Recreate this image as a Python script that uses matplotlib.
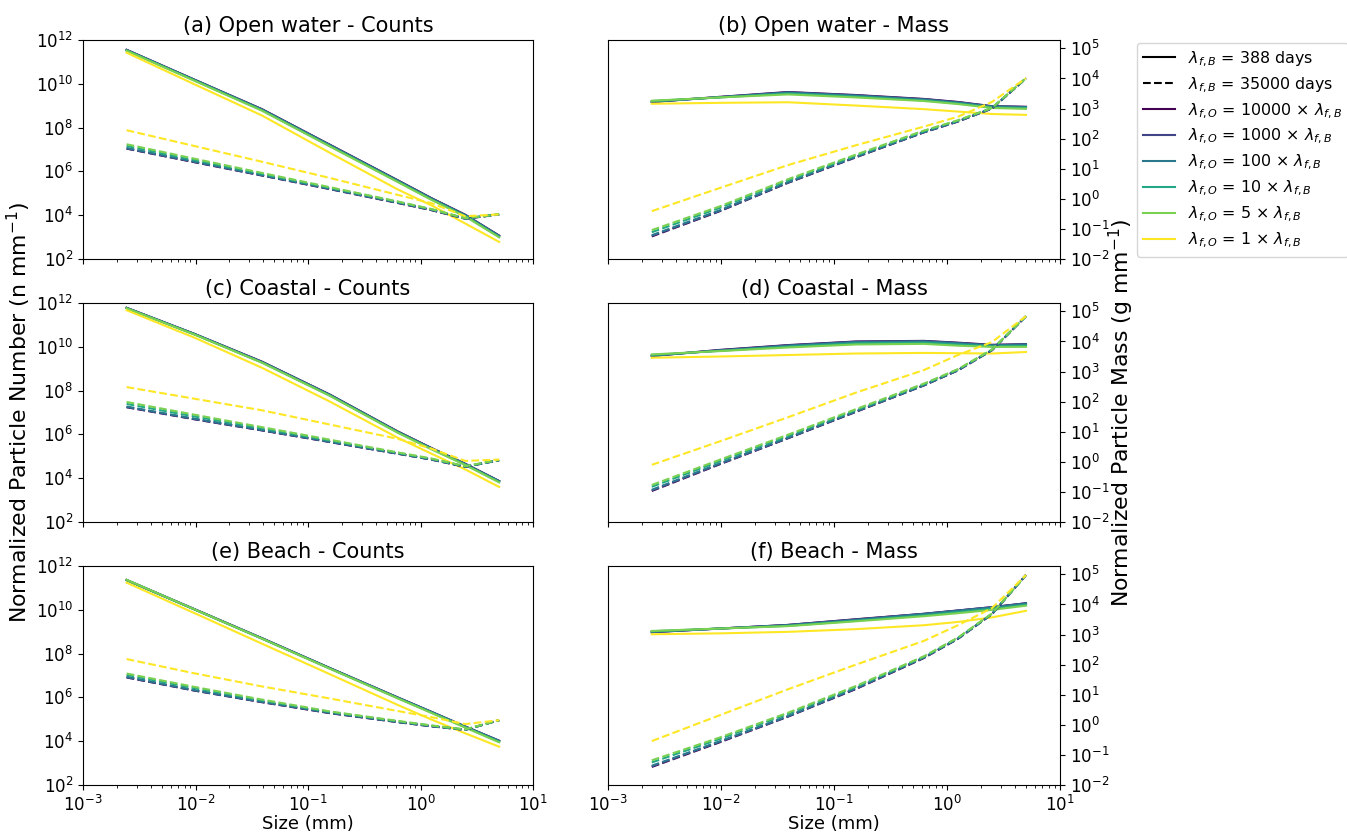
import numpy as np
import matplotlib
matplotlib.use("Agg")
import matplotlib.pyplot as plt
from matplotlib.lines import Line2D
from matplotlib.ticker import NullLocator, LogLocator

# size classes (mm)
sizes = [0.00244140625, 0.009765625, 0.0390625, 0.15625, 0.625, 1.25, 2.5, 5.0]

# fragmentation ratios lambda_f,O / lambda_f,B
factors = [10000, 1000, 100, 10, 5, 1]

# values are log10; rows follow `factors`
ow_counts_388 = [
    [11.55, 10.19, 8.84, 7.22, 5.60, 4.78, 4.02, 3.07],
    [11.55, 10.19, 8.83, 7.21, 5.59, 4.77, 4.01, 3.06],
    [11.54, 10.18, 8.82, 7.20, 5.58, 4.76, 4.00, 3.05],
    [11.52, 10.16, 8.79, 7.16, 5.54, 4.72, 3.96, 3.01],
    [11.51, 10.14, 8.77, 7.14, 5.52, 4.70, 3.94, 2.99],
    [11.42, 9.98, 8.55, 6.85, 5.18, 4.45, 3.62, 2.78],
]
ow_counts_35000 = [
    [7.04, 6.42, 5.81, 5.19, 4.56, 4.23, 3.84, 4.03],
    [7.05, 6.43, 5.82, 5.20, 4.57, 4.24, 3.84, 4.04],
    [7.07, 6.45, 5.83, 5.21, 4.58, 4.25, 3.85, 4.04],
    [7.16, 6.52, 5.88, 5.25, 4.61, 4.27, 3.86, 4.04],
    [7.24, 6.58, 5.93, 5.28, 4.63, 4.28, 3.86, 4.04],
    [7.88, 7.16, 6.44, 5.70, 4.93, 4.55, 3.95, 4.04],
]
ow_mass_388 = [
    [3.22, 3.39, 3.55, 3.45, 3.32, 3.22, 3.08, 3.06],
    [3.22, 3.38, 3.54, 3.44, 3.31, 3.21, 3.07, 3.05],
    [3.23, 3.38, 3.53, 3.43, 3.30, 3.20, 3.07, 3.05],
    [3.25, 3.37, 3.50, 3.40, 3.27, 3.17, 3.04, 3.01],
    [3.26, 3.37, 3.47, 3.37, 3.25, 3.15, 3.02, 2.99],
    [3.16, 3.19, 3.21, 3.10, 2.98, 2.90, 2.82, 2.79],
]
ow_mass_35000 = [
    [-1.25, -0.41, 0.53, 1.38, 2.21, 2.57, 3.00, 4.00],
    [-1.23, -0.40, 0.54, 1.39, 2.21, 2.57, 3.00, 4.01],
    [-1.21, -0.38, 0.55, 1.40, 2.22, 2.58, 3.01, 4.01],
    [-1.11, -0.30, 0.61, 1.44, 2.25, 2.60, 3.02, 4.01],
    [-1.04, -0.25, 0.65, 1.47, 2.27, 2.61, 3.02, 4.01],
    [-0.41, 0.36, 1.12, 1.78, 2.40, 2.73, 3.22, 4.01],
]
co_counts_388 = [
    [11.78, 10.59, 9.32, 7.82, 6.14, 5.38, 4.66, 3.87],
    [11.78, 10.59, 9.31, 7.81, 6.13, 5.37, 4.65, 3.87],
    [11.77, 10.58, 9.30, 7.80, 6.12, 5.36, 4.64, 3.86],
    [11.76, 10.57, 9.28, 7.78, 6.10, 5.34, 4.62, 3.83],
    [11.76, 10.56, 9.27, 7.76, 6.08, 5.32, 4.60, 3.81],
    [11.67, 10.42, 9.04, 7.50, 5.85, 5.12, 4.40, 3.60],
]
co_counts_35000 = [
    [7.24, 6.69, 6.18, 5.65, 5.12, 4.85, 4.52, 4.82],
    [7.25, 6.70, 6.19, 5.66, 5.12, 4.85, 4.52, 4.82],
    [7.27, 6.72, 6.20, 5.67, 5.13, 4.86, 4.53, 4.82],
    [7.39, 6.82, 6.27, 5.72, 5.16, 4.88, 4.54, 4.83],
    [7.48, 6.90, 6.33, 5.76, 5.18, 4.90, 4.55, 4.84],
    [8.16, 7.63, 7.10, 6.45, 5.80, 5.35, 4.79, 4.85],
]
co_mass_388 = [
    [3.52, 3.72, 3.88, 4.00, 4.02, 3.96, 3.89, 3.91],
    [3.52, 3.71, 3.87, 3.99, 4.01, 3.95, 3.88, 3.90],
    [3.53, 3.70, 3.86, 3.98, 4.00, 3.94, 3.87, 3.90],
    [3.55, 3.69, 3.83, 3.94, 3.96, 3.90, 3.84, 3.85],
    [3.57, 3.68, 3.80, 3.90, 3.92, 3.86, 3.82, 3.82],
    [3.46, 3.50, 3.55, 3.60, 3.62, 3.61, 3.60, 3.65],
]
co_mass_35000 = [
    [-0.97, -0.08, 0.78, 1.66, 2.54, 3.04, 3.71, 4.84],
    [-0.95, -0.07, 0.79, 1.67, 2.54, 3.04, 3.71, 4.84],
    [-0.93, -0.05, 0.80, 1.68, 2.55, 3.05, 3.72, 4.84],
    [-0.83, 0.02, 0.86, 1.72, 2.58, 3.07, 3.73, 4.84],
    [-0.77, 0.07, 0.90, 1.75, 2.60, 3.08, 3.73, 4.84],
    [-0.10, 0.68, 1.48, 2.30, 3.05, 3.55, 3.98, 4.84],
]
be_counts_388 = [
    [11.36, 10.03, 8.70, 7.34, 6.00, 5.34, 4.67, 4.02],
    [11.36, 10.03, 8.70, 7.34, 6.00, 5.34, 4.67, 4.02],
    [11.35, 10.02, 8.69, 7.33, 5.99, 5.33, 4.66, 4.01],
    [11.36, 10.02, 8.68, 7.32, 5.97, 5.31, 4.64, 3.98],
    [11.37, 10.02, 8.68, 7.31, 5.96, 5.29, 4.62, 3.95],
    [11.24, 9.85, 8.45, 7.06, 5.66, 4.99, 4.36, 3.75],
]
be_counts_35000 = [
    [6.91, 6.31, 5.78, 5.28, 4.87, 4.68, 4.52, 4.96],
    [6.92, 6.32, 5.79, 5.29, 4.88, 4.68, 4.52, 4.96],
    [6.94, 6.33, 5.80, 5.30, 4.88, 4.69, 4.52, 4.96],
    [7.03, 6.42, 5.86, 5.34, 4.91, 4.71, 4.53, 4.96],
    [7.09, 6.48, 5.90, 5.36, 4.93, 4.72, 4.54, 4.96],
    [7.75, 7.10, 6.50, 5.95, 5.38, 5.10, 4.78, 4.96],
]
be_mass_388 = [
    [3.08, 3.20, 3.32, 3.51, 3.69, 3.80, 3.91, 4.04],
    [3.08, 3.20, 3.32, 3.50, 3.69, 3.80, 3.91, 4.04],
    [3.09, 3.20, 3.31, 3.49, 3.68, 3.79, 3.90, 4.03],
    [3.11, 3.20, 3.29, 3.46, 3.64, 3.75, 3.86, 3.99],
    [3.12, 3.20, 3.28, 3.44, 3.61, 3.71, 3.82, 3.96],
    [3.01, 3.04, 3.09, 3.18, 3.31, 3.42, 3.57, 3.79],
]
be_mass_35000 = [
    [-1.40, -0.58, 0.27, 1.19, 2.22, 2.86, 3.68, 4.98],
    [-1.38, -0.56, 0.28, 1.20, 2.23, 2.86, 3.68, 4.98],
    [-1.36, -0.55, 0.29, 1.22, 2.24, 2.87, 3.69, 4.98],
    [-1.25, -0.47, 0.36, 1.26, 2.26, 2.89, 3.69, 4.98],
    [-1.18, -0.42, 0.40, 1.29, 2.28, 2.90, 3.70, 4.98],
    [-0.54, 0.32, 1.18, 2.00, 2.79, 3.31, 3.88, 4.98],
]

titles = ["(a) Open water - Counts", "(b) Open water - Mass",
          "(c) Coastal - Counts", "(d) Coastal - Mass",
          "(e) Beach - Counts", "(f) Beach - Mass"]

panels = [
    (ow_counts_388, ow_counts_35000), (ow_mass_388, ow_mass_35000),
    (co_counts_388, co_counts_35000), (co_mass_388, co_mass_35000),
    (be_counts_388, be_counts_35000), (be_mass_388, be_mass_35000),
]

colors = plt.cm.viridis(np.linspace(0, 1, len(factors)))

fig = plt.figure(figsize=(13.47, 8.34), dpi=100)
W, H = 1347.0, 834.0
col_x = [(83, 450), (608, 452)]
row_top = [40, 303, 566]
ax_h = 219

axes = []
for i in range(6):
    r, c = divmod(i, 2)
    x0, w = col_x[c]
    ax = fig.add_axes([x0 / W, 1 - (row_top[r] + ax_h) / H, w / W, ax_h / H])
    axes.append(ax)

for i, ax in enumerate(axes):
    short, long_ = panels[i]
    for k in range(len(factors)):
        ax.plot(sizes, 10 ** np.array(short[k]), color=colors[k], lw=1.5)
    for k in range(len(factors)):
        ax.plot(sizes, 10 ** np.array(long_[k]), color=colors[k], lw=1.5, ls="--")
    ax.set_xscale("log")
    ax.set_yscale("log")
    ax.set_xlim(1e-3, 1e1)
    ax.set_title(titles[i], fontsize=15)
    ax.tick_params(labelsize=12)
    if i < 4:
        ax.tick_params(axis="x", labelbottom=False)
    else:
        ax.set_xlabel("Size (mm)", fontsize=13, labelpad=0)
    if i % 2 == 0:
        ax.set_ylim(1e2, 1e12)
        ax.set_yticks([1e2, 1e4, 1e6, 1e8, 1e10, 1e12])
        ax.yaxis.set_minor_locator(NullLocator())
    else:
        ax.set_ylim(1e-2, 1.9e5)
        ax.yaxis.tick_right()
        ax.yaxis.set_major_locator(LogLocator(base=10, numticks=20))
        ax.yaxis.set_minor_locator(NullLocator())

axes[2].set_ylabel("Normalized Particle Number (n mm$^{-1}$)", fontsize=15.8, labelpad=2)
axes[3].yaxis.set_label_position("right")
axes[3].set_ylabel("Normalized Particle Mass (g mm$^{-1}$)", fontsize=15.8, labelpad=-2)

handles = [Line2D([], [], color="black", lw=1.5, ls="-"),
           Line2D([], [], color="black", lw=1.5, ls="--")]
labels = [r"$\lambda_{f,B}$ = 388 days", r"$\lambda_{f,B}$ = 35000 days"]
for k, f in enumerate(factors):
    handles.append(Line2D([], [], color=colors[k], lw=1.5))
    labels.append(r"$\lambda_{f,O}$ = %d $\times$ $\lambda_{f,B}$" % f)
fig.legend(handles, labels, loc="upper left", bbox_to_anchor=(1137 / W, 1 - 43 / H),
           borderaxespad=0, fontsize=11.4, labelspacing=0.42, handlelength=2.0,
           handletextpad=0.8, borderpad=0.4)

fig.savefig("out.png", dpi=100)
